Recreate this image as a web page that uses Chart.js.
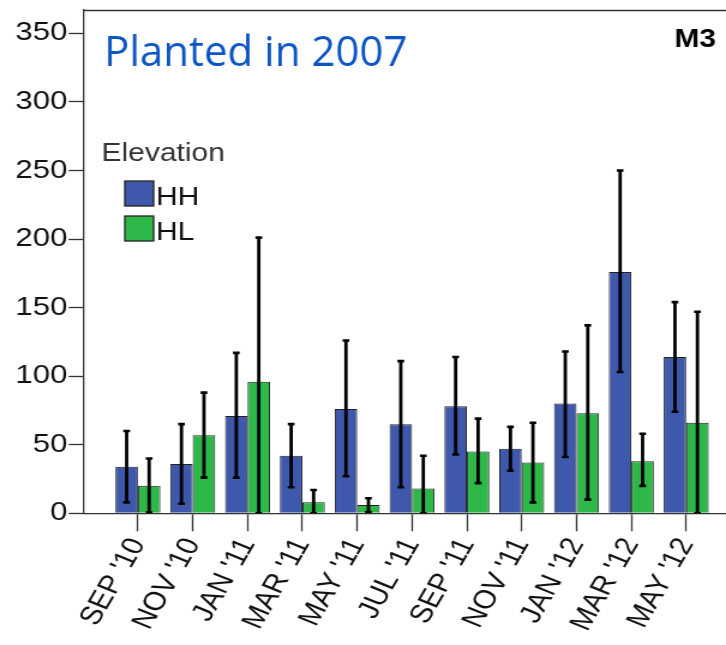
<!DOCTYPE html>
<html>
<head>
<meta charset="utf-8">
<script src="https://cdn.jsdelivr.net/npm/chart.js@4/dist/chart.umd.min.js"></script>
<style>
  html, body { margin: 0; padding: 0; background: #fff; overflow: hidden; width: 726px; height: 645px; }
  #wrap { position: absolute; left: 0; top: 0; transform: scaleX(1.2); transform-origin: 0 0; }
  canvas { display: block; }
</style>
</head>
<body>
<div id="wrap"><canvas id="chart" width="640" height="645"></canvas></div>
<script>
// Sampling months
const months = ["SEP '10", "NOV '10", "JAN '11", "MAR '11", "MAY '11", "JUL '11",
                "SEP '11", "NOV '11", "JAN '12", "MAR '12", "MAY '12"];

// HH elevation: means and error-bar bounds
const hhMean = [34, 36, 71, 42, 76, 65, 78, 47, 80, 176, 114];
const hhLow  = [8, 7, 26, 19, 27, 19, 43, 31, 41, 103, 74];
const hhHigh = [60, 65, 117, 65, 126, 111, 114, 63, 118, 250, 154];

// HL elevation: means and error-bar bounds
const hlMean = [20, 57, 96, 8, 6, 18, 45, 37, 73, 38, 66];
const hlLow  = [0.5, 26, 0, 0, 1, 0, 22, 8, 10, 20, 0];
const hlHigh = [40, 88, 201, 17, 11, 42, 69, 66, 137, 58, 147];

const yTicks = [0, 50, 100, 150, 200, 250, 300, 350];

const STRETCH = 1.2;   // horizontal stretch applied to the canvas by CSS
const FONT = "'Liberation Sans', Arial, sans-serif";

const toPoints = (arr) => arr.map((v, i) => ({ x: i, y: v }));

const noPadding = (s) => { s.paddingLeft = 0; s.paddingRight = 0; s.paddingTop = 0; s.paddingBottom = 0; };

// Whisker bars drawn on top of each bar
const errorBars = {
  id: 'errorBars',
  afterDatasetsDraw(chart) {
    const { ctx, chartArea: a, scales: { y } } = chart;
    ctx.save();
    ctx.beginPath();
    ctx.rect(a.left, a.top, a.right - a.left, a.bottom - a.top);
    ctx.clip();
    ctx.strokeStyle = '#000';
    chart.data.datasets.forEach((ds, di) => {
      const meta = chart.getDatasetMeta(di);
      meta.data.forEach((bar, i) => {
        const x = bar.x;
        const yLo = y.getPixelForValue(ds.errLow[i]);
        const yHi = y.getPixelForValue(ds.errHigh[i]);
        ctx.lineWidth = 2.8;
        ctx.beginPath();
        ctx.moveTo(x, yLo);
        ctx.lineTo(x, yHi);
        ctx.stroke();
        ctx.lineWidth = 2.6;
        ctx.beginPath();
        ctx.moveTo(x - 2.8, yHi); ctx.lineTo(x + 2.8, yHi);
        ctx.moveTo(x - 2.8, yLo); ctx.lineTo(x + 2.8, yLo);
        ctx.stroke();
      });
    });
    ctx.restore();
  }
};

// Plot frame, legend, panel tag and heading
const decorations = {
  id: 'decorations',
  afterDraw(chart) {
    const { ctx, chartArea: a } = chart;
    ctx.save();
    // frame top and right edges
    ctx.strokeStyle = '#333';
    ctx.lineWidth = 1.3;
    ctx.beginPath();
    ctx.moveTo(a.left, a.top + 0.5);
    ctx.lineTo(a.right, a.top + 0.5);
    ctx.lineTo(a.right, a.bottom);
    ctx.stroke();

    // legend
    ctx.fillStyle = '#333';
    ctx.font = `25px ${FONT}`;
    ctx.textAlign = 'left';
    ctx.textBaseline = 'alphabetic';
    ctx.fillText('Elevation', 84.5, 161);
    chart.data.datasets.forEach((ds, i) => {
      const top = 181 + i * 35;
      ctx.fillStyle = ds.backgroundColor;
      ctx.fillRect(104, top, 24, 25);
      ctx.strokeStyle = '#222';
      ctx.lineWidth = 1.3;
      ctx.strokeRect(104, top, 24, 25);
      ctx.fillStyle = '#111';
      ctx.fillText(ds.label, 130, top + 24);
    });

    // panel tag
    ctx.fillStyle = '#000';
    ctx.font = `bold 25px ${FONT}`;
    ctx.fillText('M3', 562, 47);

    // heading, drawn without the horizontal stretch
    ctx.scale(1 / STRETCH, 1);
    ctx.fillStyle = '#0b55c4';
    ctx.font = "42px 'Open Sans', 'Noto Sans', sans-serif";
    ctx.fillText('Planted in 2007', 104, 66);
    ctx.restore();
  }
};

new Chart(document.getElementById('chart'), {
  type: 'bar',
  data: {
    datasets: [
      {
        label: 'HH',
        data: toPoints(hhMean),
        errLow: hhLow,
        errHigh: hhHigh,
        backgroundColor: '#3e58ac',
        borderColor: '#222',
        borderWidth: 1
      },
      {
        label: 'HL',
        data: toPoints(hlMean),
        errLow: hlLow,
        errHigh: hlHigh,
        backgroundColor: '#2eb84a',
        borderColor: '#222',
        borderWidth: 1
      }
    ]
  },
  options: {
    responsive: false,
    animation: false,
    layout: { padding: { left: 0, top: 10, right: 22.5, bottom: 0 } },
    datasets: { bar: { categoryPercentage: 0.82, barPercentage: 1.0 } },
    plugins: {
      legend: { display: false },
      tooltip: { enabled: false }
    },
    scales: {
      x: {
        type: 'linear',
        offset: false,
        min: -1,
        max: months.length,
        afterFit: (s) => { s.height = 131.7; noPadding(s); },
        ticks: {
          stepSize: 1,
          autoSkip: false,
          includeBounds: false,
          minRotation: 64,
          maxRotation: 64,
          padding: 2,
          color: '#111',
          font: { family: FONT, size: 26 },
          callback: (v) => (Number.isInteger(v) && months[v] !== undefined) ? months[v] : ''
        },
        grid: {
          offset: false,
          drawOnChartArea: false,
          tickLength: 18,
          tickWidth: 1.3,
          tickColor: (c) => (c.tick && c.tick.value >= 0 && c.tick.value < months.length) ? '#333' : 'rgba(0,0,0,0)',
          color: 'rgba(0,0,0,0)'
        },
        border: { color: '#333', width: 1.3 }
      },
      y: {
        min: 0,
        max: 367,
        afterFit: (s) => { s.width = 69.2; noPadding(s); },
        afterBuildTicks: (s) => { s.ticks = yTicks.map((v) => ({ value: v })); },
        ticks: {
          includeBounds: false,
          padding: 1,
          color: '#111',
          font: { family: FONT, size: 26 }
        },
        grid: {
          drawOnChartArea: false,
          tickLength: 12,
          tickWidth: 1.3,
          tickColor: '#333'
        },
        border: { color: '#333', width: 1.3 }
      }
    }
  },
  plugins: [errorBars, decorations]
});
</script>
</body>
</html>
